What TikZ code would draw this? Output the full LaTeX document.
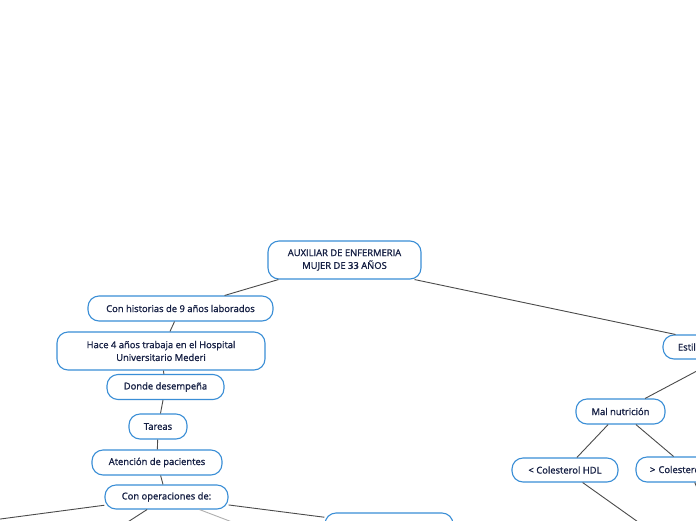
\documentclass[tikz,border=0pt]{standalone}
\usepackage{fontspec}
\setmainfont{Open Sans}[FakeBold=1.2]
\usetikzlibrary{calc}
\definecolor{bordercol}{RGB}{58,142,214}
\definecolor{txtcol}{RGB}{22,32,68}
\definecolor{linecol}{RGB}{75,75,75}
\definecolor{lightline}{RGB}{175,175,175}
\tikzset{
  mmnode/.style={draw=bordercol, line width=1.1pt, fill=white, rounded corners=11pt,
    text=txtcol, font=\fontsize{9.4}{12.8}\selectfont, align=center, inner sep=0pt},
  conn/.style={draw=linecol, line width=0.9pt},
  lightconn/.style={draw=lightline, line width=0.9pt}
}
\begin{document}
\begin{tikzpicture}[x=1pt,y=-1pt]
\useasboundingbox (0,0) rectangle (696,520);
\clip (0,0) rectangle (696,520);
\fill[white] (0,0) rectangle (696,520);
% nodes
\node[mmnode, minimum width=153pt, minimum height=38pt] (root) at (344.5,260) {AUXILIAR DE ENFERMERIA\\MUJER DE 33 AÑOS};
\node[mmnode, minimum width=185pt, minimum height=25pt] (hist) at (180.5,308.5) {Con historias de 9 años laborados};
\node[mmnode, minimum width=208pt, minimum height=38pt] (hace) at (161,351) {Hace 4 años trabaja en el Hospital\\Universitario Mederi};
\node[mmnode, minimum width=117pt, minimum height=25pt] (donde) at (165.5,387) {Donde desempeña};
\node[mmnode, minimum width=58pt, minimum height=25pt] (tareas) at (158,426.5) {Tareas};
\node[mmnode, minimum width=130pt, minimum height=25pt] (atenc) at (157,462.5) {Atención de pacientes};
\node[mmnode, minimum width=123pt, minimum height=24pt] (ops) at (166.5,497) {Con operaciones de:};
\node[mmnode, minimum width=128pt, minimum height=25pt] (part) at (389,525.5) {};
\node[mmnode, minimum width=158pt, minimum height=24pt, text width=128pt, align=left] (estil) at (742,347) {Estilo de vida sedentario};
\node[mmnode, minimum width=89pt, minimum height=25pt] (mal) at (620.5,411.5) {Mal nutrición};
\node[mmnode, minimum width=106pt, minimum height=24pt] (hdl) at (565,470) {< Colesterol HDL};
\node[mmnode, minimum width=106pt, minimum height=25pt, text width=78pt, align=left] (ldl) at (689,469.5) {> Colesterol LDL};
% free ends
\coordinate (offl) at (-60,527);
\coordinate (offdl) at (120,527);
\coordinate (offg) at (240,525);
\coordinate (offhdl) at (655,534);
\coordinate (offldl) at (720,540);
% connectors
\path[conn] (root) -- (hist);
\path[conn] ($(root.south east)+(-7,0)$) -- ($(estil.north west)+(13,0)$);
\path[conn] (hist) -- (hace);
\path[conn] (hace) -- (donde);
\path[conn] (donde) -- (tareas);
\path[conn] (tareas) -- (atenc);
\path[conn] (atenc) -- (ops);
\path[conn] (ops) -- (offl);
\path[conn] (ops) -- (offdl);
\path[lightconn] (ops) -- (offg);
\path[conn] (ops) -- (part);
\path[conn] (estil) -- (mal);
\path[conn] (mal) -- (hdl);
\path[conn] (mal) -- (ldl);
\path[conn] (hdl) -- (offhdl);
\path[conn] (ldl) -- (offldl);
\end{tikzpicture}
\end{document}
